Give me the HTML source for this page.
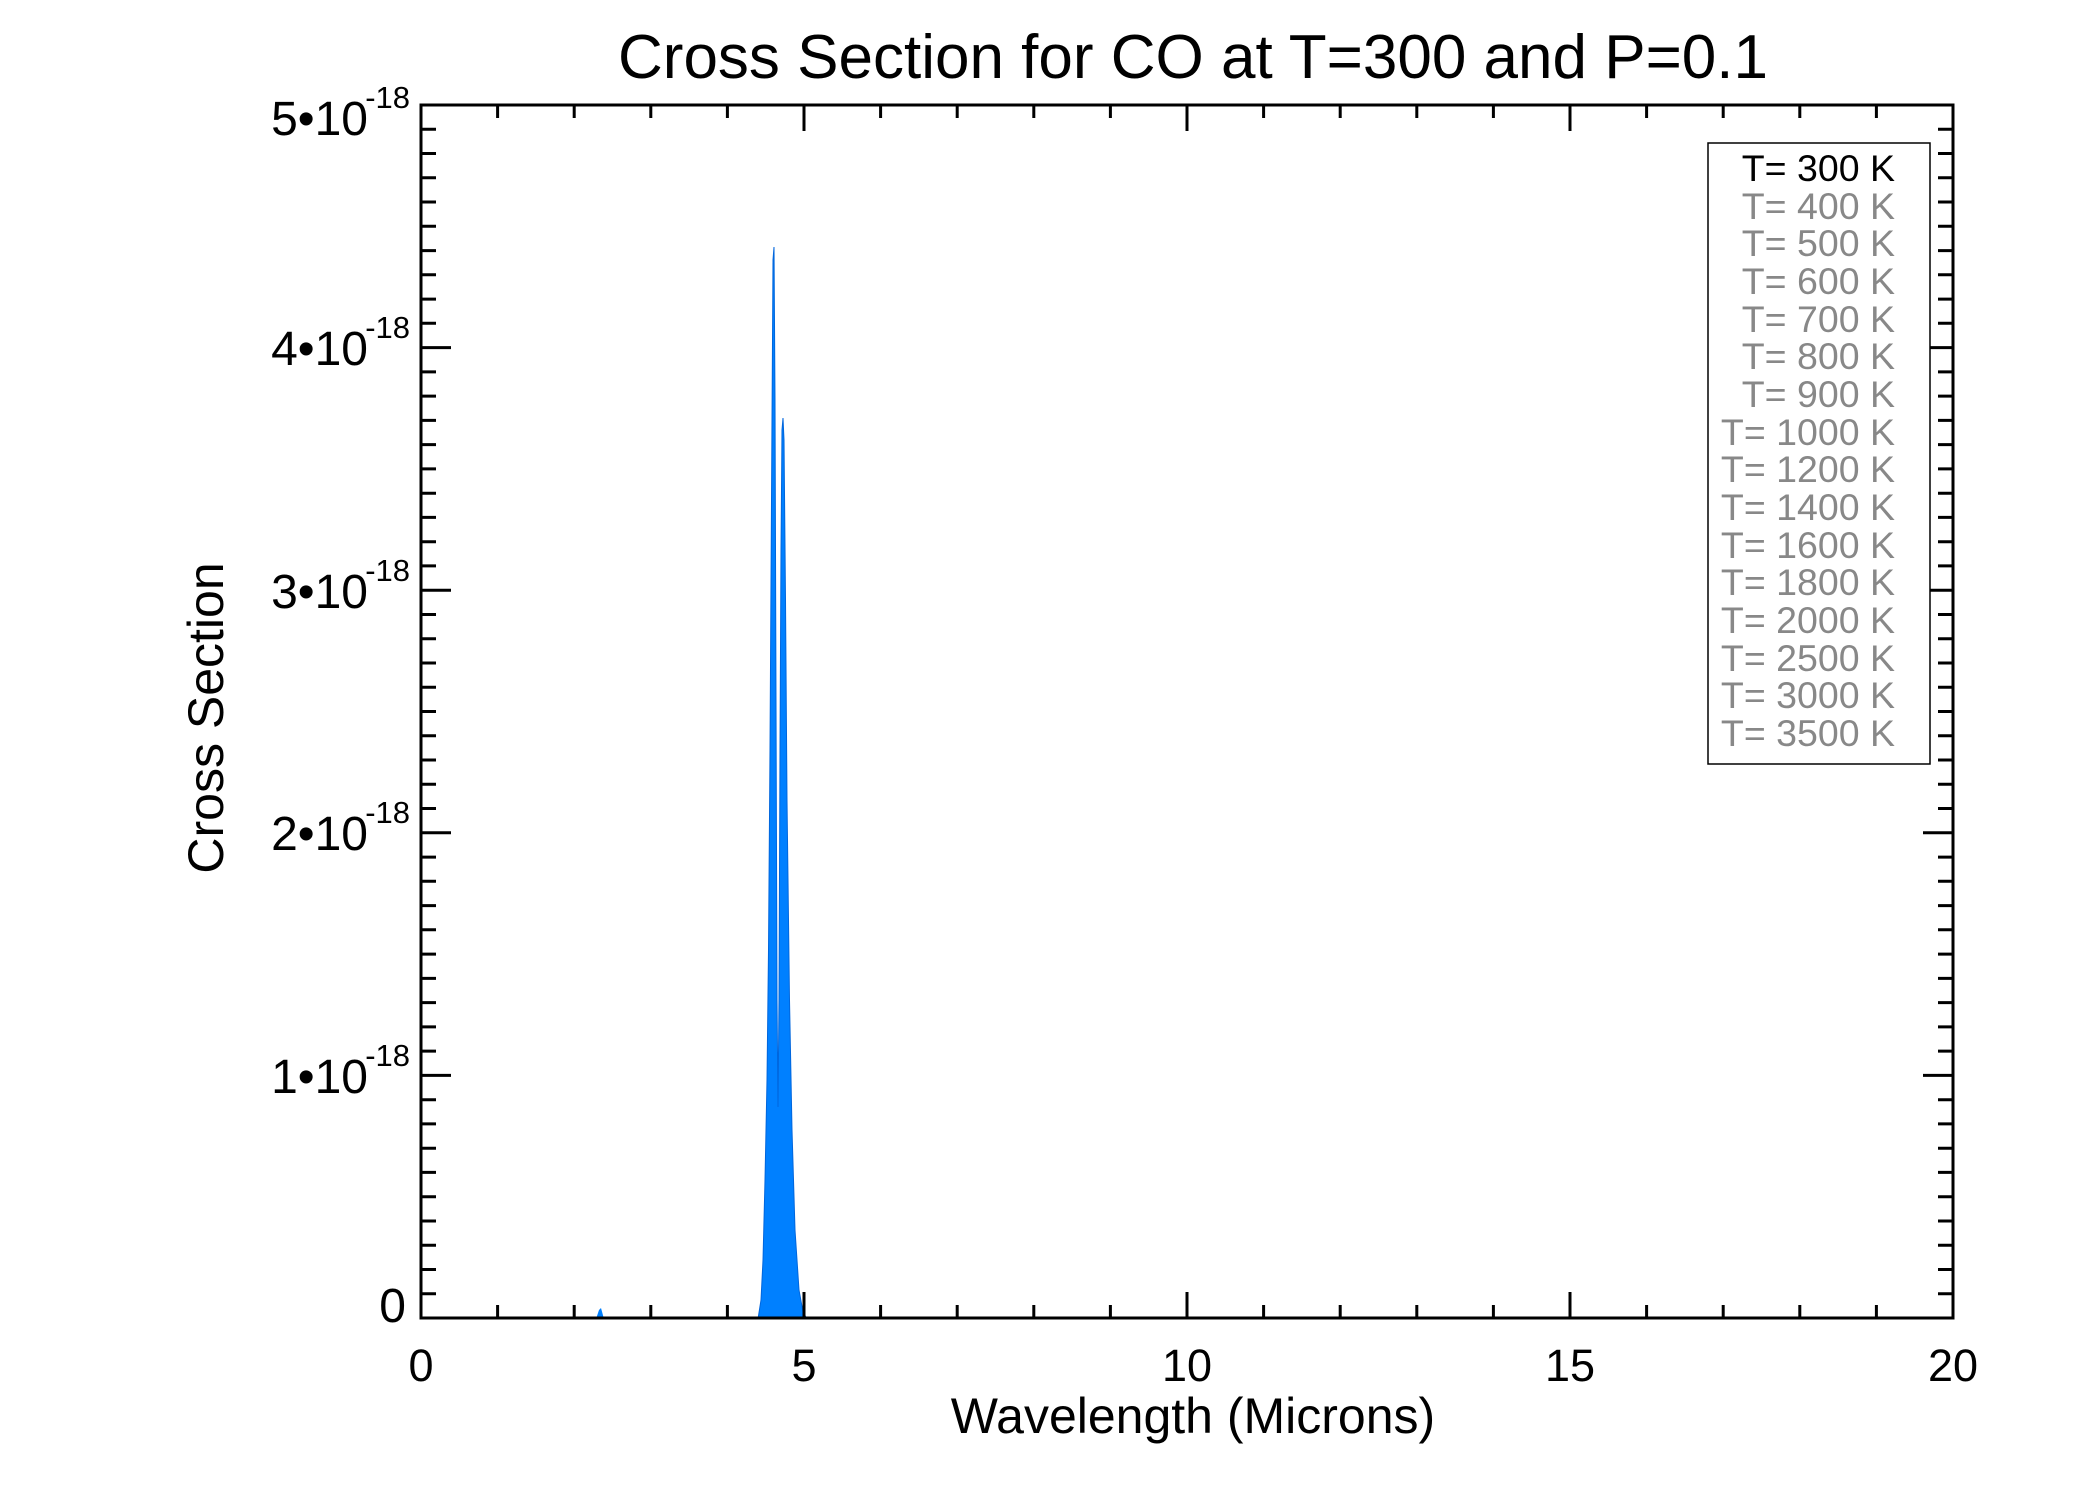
<!DOCTYPE html>
<html><head><meta charset="utf-8"><style>
html,body{margin:0;padding:0;background:#fff;}
svg{display:block;font-family:"Liberation Sans",Arial,sans-serif;}
</style></head><body>
<svg width="2100" height="1500" viewBox="0 0 2100 1500" xmlns="http://www.w3.org/2000/svg">
<rect width="2100" height="1500" fill="#fff"/>
<text x="1193" y="78" font-size="62" text-anchor="middle">Cross Section for CO at T=300 and P=0.1</text>
<line x1="513" y1="1318" x2="1953" y2="1318" stroke="#0080ff" stroke-width="3"/>
<path d="M596,1319 L599,1310 L601,1308 L604,1319 Z" fill="#0080ff"/>
<path d="M758,1319 L761,1300 L763,1260 L765,1180 L767,1080 L768.5,950 L770,750 L771.5,500 L773,260 L774,247 L775,400 L776,700 L777,1000 L778,1107 L779,1000 L780,750 L781,550 L782,430 L783,418 L784,440 L785.5,600 L787,800 L789.5,1000 L792,1130 L795,1230 L799,1290 L803,1312 L807,1319 Z" fill="#0080ff" stroke="#0066dd" stroke-width="1"/>
<rect x="421" y="105" width="1532" height="1213" fill="none" stroke="#000" stroke-width="3"/>
<g stroke="#000" stroke-width="3">
<path d="M421,1318v-26M804,1318v-26M1187,1318v-26M1570,1318v-26M1953,1318v-26M421,105v26M804,105v26M1187,105v26M1570,105v26M1953,105v26"/>
<path d="M497.6,1318v-13M574.2,1318v-13M650.8,1318v-13M727.4,1318v-13M880.6,1318v-13M957.2,1318v-13M1033.8,1318v-13M1110.4,1318v-13M1263.6,1318v-13M1340.2,1318v-13M1416.8,1318v-13M1493.4,1318v-13M1646.6,1318v-13M1723.2,1318v-13M1799.8,1318v-13M1876.4,1318v-13M497.6,105v13M574.2,105v13M650.8,105v13M727.4,105v13M880.6,105v13M957.2,105v13M1033.8,105v13M1110.4,105v13M1263.6,105v13M1340.2,105v13M1416.8,105v13M1493.4,105v13M1646.6,105v13M1723.2,105v13M1799.8,105v13M1876.4,105v13"/>
<path d="M421,1318h30M421,1075.4h30M421,832.8h30M421,590.2h30M421,347.6h30M421,105h30M1953,1318h-30M1953,1075.4h-30M1953,832.8h-30M1953,590.2h-30M1953,347.6h-30M1953,105h-30"/>
</g>
<path stroke="#000" stroke-width="3" d="
M421,1293.7h15M421,1269.5h15M421,1245.2h15M421,1221h15M421,1196.7h15M421,1172.4h15M421,1148.2h15M421,1123.9h15M421,1099.7h15
M421,1051.1h15M421,1026.9h15M421,1002.6h15M421,978.4h15M421,954.1h15M421,929.8h15M421,905.6h15M421,881.3h15M421,857.1h15
M421,808.5h15M421,784.3h15M421,760h15M421,735.8h15M421,711.5h15M421,687.2h15M421,663h15M421,638.7h15M421,614.5h15
M421,565.9h15M421,541.7h15M421,517.4h15M421,493.2h15M421,468.9h15M421,444.6h15M421,420.4h15M421,396.1h15M421,371.9h15
M421,323.3h15M421,299.1h15M421,274.8h15M421,250.6h15M421,226.3h15M421,202h15M421,177.8h15M421,153.5h15M421,129.3h15
M1953,1293.7h-15M1953,1269.5h-15M1953,1245.2h-15M1953,1221h-15M1953,1196.7h-15M1953,1172.4h-15M1953,1148.2h-15M1953,1123.9h-15M1953,1099.7h-15
M1953,1051.1h-15M1953,1026.9h-15M1953,1002.6h-15M1953,978.4h-15M1953,954.1h-15M1953,929.8h-15M1953,905.6h-15M1953,881.3h-15M1953,857.1h-15
M1953,808.5h-15M1953,784.3h-15M1953,760h-15M1953,735.8h-15M1953,711.5h-15M1953,687.2h-15M1953,663h-15M1953,638.7h-15M1953,614.5h-15
M1953,565.9h-15M1953,541.7h-15M1953,517.4h-15M1953,493.2h-15M1953,468.9h-15M1953,444.6h-15M1953,420.4h-15M1953,396.1h-15M1953,371.9h-15
M1953,323.3h-15M1953,299.1h-15M1953,274.8h-15M1953,250.6h-15M1953,226.3h-15M1953,202h-15M1953,177.8h-15M1953,153.5h-15M1953,129.3h-15"/>
<g font-size="45" text-anchor="middle">
<text x="421" y="1381">0</text><text x="804" y="1381">5</text><text x="1187" y="1381">10</text><text x="1570" y="1381">15</text><text x="1953" y="1381">20</text>
</g>
<text x="1193" y="1433" font-size="50" text-anchor="middle">Wavelength (Microns)</text>
<text transform="translate(223,718) rotate(-90)" font-size="50" text-anchor="middle">Cross Section</text>
<g font-size="48" text-anchor="end">
<text x="406" y="1322">0</text>
<text x="368" y="1093">1•10</text><text x="410" y="1066" font-size="31">-18</text>
<text x="368" y="850">2•10</text><text x="410" y="823" font-size="31">-18</text>
<text x="368" y="608">3•10</text><text x="410" y="581" font-size="31">-18</text>
<text x="368" y="365">4•10</text><text x="410" y="338" font-size="31">-18</text>
<text x="368" y="135">5•10</text><text x="410" y="108" font-size="31">-18</text>
</g>
<rect x="1708" y="143" width="222" height="621" fill="#fff" stroke="#000" stroke-width="1.5"/>
<g font-size="37.5" text-anchor="end" fill="#888">
<text x="1895" y="181" fill="#000">T= 300 K</text>
<text x="1895" y="219">T= 400 K</text>
<text x="1895" y="256">T= 500 K</text>
<text x="1895" y="294">T= 600 K</text>
<text x="1895" y="332">T= 700 K</text>
<text x="1895" y="369">T= 800 K</text>
<text x="1895" y="407">T= 900 K</text>
<text x="1895" y="445">T= 1000 K</text>
<text x="1895" y="482">T= 1200 K</text>
<text x="1895" y="520">T= 1400 K</text>
<text x="1895" y="558">T= 1600 K</text>
<text x="1895" y="595">T= 1800 K</text>
<text x="1895" y="633">T= 2000 K</text>
<text x="1895" y="671">T= 2500 K</text>
<text x="1895" y="708">T= 3000 K</text>
<text x="1895" y="746">T= 3500 K</text>
</g>
</svg>
</body></html>
